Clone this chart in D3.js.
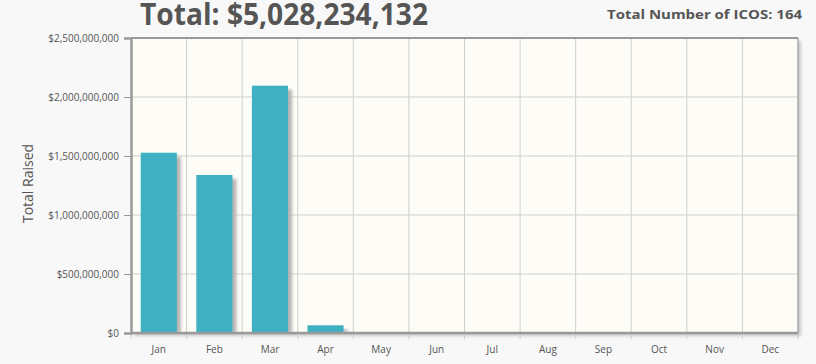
<!DOCTYPE html>
<html>
<head>
<meta charset="utf-8">
<script src="https://cdn.jsdelivr.net/npm/d3@7"></script>
<style>
  body { margin: 0; background: #f8f8f8; }
  svg { display: block; font-family: "Open Sans", sans-serif; }
  .tick text { fill: #555; font-size: 10px; font-family: "Open Sans", sans-serif; }
</style>
</head>
<body>
<div id="chart"></div>
<script>
const months = ["Jan", "Feb", "Mar", "Apr", "May", "Jun", "Jul", "Aug", "Sep", "Oct", "Nov", "Dec"];
const raised = [1528000000, 1339000000, 2096000000, 65234132, 0, 0, 0, 0, 0, 0, 0, 0];
const yTicks = [0, 500000000, 1000000000, 1500000000, 2000000000, 2500000000];
const totalText = "Total: $5,028,234,132";
const icoText = "Total Number of ICOS: 164";

const width = 816, height = 364;
const margin = { top: 38, right: 18, bottom: 31, left: 131 };
const innerWidth = width - margin.left - margin.right;
const innerHeight = height - margin.top - margin.bottom;

const svg = d3.select("#chart").append("svg")
    .attr("width", width)
    .attr("height", height);

const defs = svg.append("defs");
const blur = defs.append("filter").attr("id", "shadow")
    .attr("x", "-20%").attr("y", "-20%").attr("width", "150%").attr("height", "150%");
blur.append("feGaussianBlur").attr("stdDeviation", 1.4);

// titles
svg.append("text")
    .attr("x", 140).attr("y", 25)
    .attr("fill", "#555")
    .attr("font-size", 30)
    .attr("font-weight", "bold")
    .attr("textLength", 288)
    .attr("lengthAdjust", "spacingAndGlyphs")
    .text(totalText);

svg.append("text")
    .attr("x", 802).attr("y", 19)
    .attr("text-anchor", "end")
    .attr("fill", "#555")
    .attr("font-size", 13)
    .attr("font-weight", "bold")
    .attr("textLength", 195)
    .attr("lengthAdjust", "spacingAndGlyphs")
    .text(icoText);

const g = svg.append("g")
    .attr("transform", `translate(${margin.left},${margin.top})`);

const x = d3.scaleBand()
    .domain(months)
    .range([0, innerWidth])
    .paddingInner(0.35)
    .paddingOuter(0.175);

const y = d3.scaleLinear()
    .domain([0, 2500000000])
    .range([innerHeight, 0]);

// frame shadow + background
g.append("rect")
    .attr("x", 3).attr("y", 3)
    .attr("width", innerWidth).attr("height", innerHeight)
    .attr("fill", "#c8c8c8")
    .attr("filter", "url(#shadow)");
g.append("rect")
    .attr("width", innerWidth).attr("height", innerHeight)
    .attr("fill", "#fdfcf7");

// grid lines
const step = innerWidth / months.length;
g.selectAll(".vgrid")
    .data(d3.range(1, months.length))
    .enter().append("line")
    .attr("x1", d => d * step).attr("x2", d => d * step)
    .attr("y1", 0).attr("y2", innerHeight)
    .attr("stroke", "#cfcfcf");

g.selectAll(".hgrid")
    .data(yTicks.slice(1))
    .enter().append("line")
    .attr("x1", 0).attr("x2", innerWidth)
    .attr("y1", d => y(d)).attr("y2", d => y(d))
    .attr("stroke", "#cfcfcf");

// bars with shadows
const barData = raised.map((v, i) => ({ m: months[i], v }));

g.selectAll(".bar-shadow")
    .data(barData.filter(d => d.v > 0))
    .enter().append("rect")
    .attr("x", d => x(d.m) + 4)
    .attr("y", d => y(d.v) + 4)
    .attr("width", x.bandwidth())
    .attr("height", d => innerHeight - y(d.v) - 4)
    .attr("fill", "#b5b5b5")
    .attr("filter", "url(#shadow)");

g.selectAll(".bar")
    .data(barData)
    .enter().append("rect")
    .attr("x", d => x(d.m))
    .attr("y", d => y(d.v))
    .attr("width", x.bandwidth())
    .attr("height", d => innerHeight - y(d.v))
    .attr("fill", "#3fb0c2");

// border lines
g.append("line").attr("x1", 0).attr("x2", innerWidth).attr("y1", 0).attr("y2", 0)
    .attr("stroke", "#999").attr("stroke-width", 2);
g.append("line").attr("x1", innerWidth).attr("x2", innerWidth).attr("y1", 0).attr("y2", innerHeight)
    .attr("stroke", "#aaa").attr("stroke-width", 1.5);

// y axis
const yAxis = g.append("g")
    .call(d3.axisLeft(y).tickValues(yTicks).tickSize(7).tickPadding(5)
        .tickFormat(d => "$" + d3.format(",")(d)));
yAxis.attr("font-family", "Open Sans, sans-serif");
yAxis.select(".domain").attr("stroke", "#999").attr("stroke-width", 2.5);
yAxis.selectAll(".tick line").attr("stroke", "#999");

// x axis
const xAxis = g.append("g")
    .attr("transform", `translate(0,${innerHeight})`)
    .call(d3.axisBottom(x).tickSize(0).tickPadding(13));
xAxis.attr("font-family", "Open Sans, sans-serif");
xAxis.select(".domain").remove();

g.append("line").attr("x1", 0).attr("x2", innerWidth)
    .attr("y1", innerHeight).attr("y2", innerHeight)
    .attr("stroke", "#999").attr("stroke-width", 2.5);

g.selectAll(".xtick")
    .data(d3.range(0, months.length + 1))
    .enter().append("line")
    .attr("x1", d => d * step).attr("x2", d => d * step)
    .attr("y1", innerHeight + 2).attr("y2", innerHeight + 6)
    .attr("stroke", "#ccc");

// y label
svg.append("text")
    .attr("transform", `translate(33,${margin.top + innerHeight / 2 - 2}) rotate(-90)`)
    .attr("text-anchor", "middle")
    .attr("fill", "#555")
    .attr("font-size", 14)
    .text("Total Raised");
</script>
</body>
</html>
